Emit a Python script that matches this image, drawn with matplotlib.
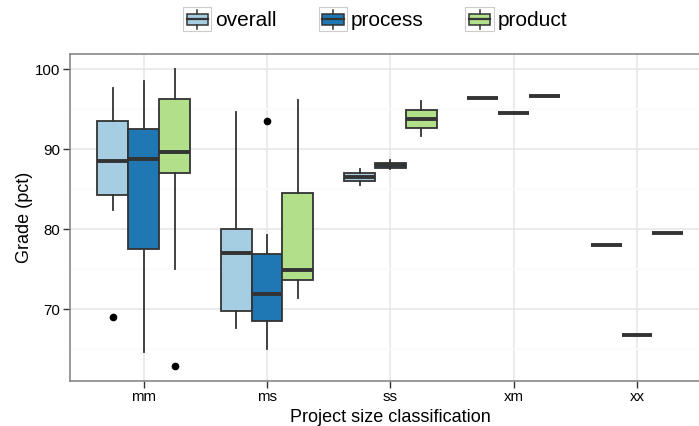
import matplotlib
matplotlib.use('Agg')
import matplotlib.pyplot as plt
from matplotlib.legend_handler import HandlerBase
from matplotlib.patches import Rectangle, Patch
from matplotlib.lines import Line2D
import numpy as np

plt.rcParams['font.family'] = ['Liberation Sans', 'DejaVu Sans']

categories = ['mm', 'ms', 'ss', 'xm', 'xx']
groups = ['overall', 'process', 'product']
colors = ['#A6CEE3', '#1F78B4', '#B2DF8A']

# box summaries (whisker low, q1, median, q3, whisker high)
overall_lo = [82.4, 67.7, 85.5, 96.4, 78.1]
overall_q1 = [84.3, 69.8, 86.0, 96.4, 78.1]
overall_med = [88.5, 77.0, 86.5, 96.4, 78.1]
overall_q3 = [93.5, 80.1, 87.0, 96.4, 78.1]
overall_hi = [97.7, 94.6, 87.5, 96.4, 78.1]
overall_out = [[69.0], [], [], [], []]

process_lo = [64.7, 65.0, 87.5, 94.5, 66.8]
process_q1 = [77.5, 68.6, 87.7, 94.5, 66.8]
process_med = [88.8, 71.9, 88.0, 94.5, 66.8]
process_q3 = [92.5, 76.9, 88.3, 94.5, 66.8]
process_hi = [98.5, 79.3, 88.6, 94.5, 66.8]
process_out = [[], [93.5], [], [], []]

product_lo = [75.1, 71.4, 91.6, 96.6, 79.5]
product_q1 = [87.0, 73.7, 92.7, 96.6, 79.5]
product_med = [89.6, 74.9, 93.8, 96.6, 79.5]
product_q3 = [96.3, 84.6, 94.9, 96.6, 79.5]
product_hi = [100.0, 96.1, 96.0, 96.6, 79.5]
product_out = [[62.9], [], [], [], []]

series = {
    'overall': (overall_lo, overall_q1, overall_med, overall_q3, overall_hi, overall_out),
    'process': (process_lo, process_q1, process_med, process_q3, process_hi, process_out),
    'product': (product_lo, product_q1, product_med, product_q3, product_hi, product_out),
}

edge = '#333333'


class BoxKey(HandlerBase):
    # legend key drawn like a small boxplot inside a grey square
    def create_artists(self, legend, orig, xd, yd, w, h, fs, trans):
        fc = orig.get_facecolor()
        x0, y0 = -xd, -yd
        cx = x0 + w / 2
        bg = Rectangle((x0, y0), w, h, fc='white', ec='#CCCCCC', lw=0.8, transform=trans)
        box = Rectangle((x0 + w * 0.12, y0 + h * 0.27), w * 0.76, h * 0.46,
                        fc=fc, ec=edge, lw=1.1, transform=trans)
        med = Line2D([x0 + w * 0.12, x0 + w * 0.88], [y0 + h / 2] * 2, color=edge, lw=1.6, transform=trans)
        w1 = Line2D([cx, cx], [y0 + h * 0.1, y0 + h * 0.27], color=edge, lw=1.1, transform=trans)
        w2 = Line2D([cx, cx], [y0 + h * 0.73, y0 + h * 0.9], color=edge, lw=1.1, transform=trans)
        return [bg, box, med, w1, w2]


fig = plt.figure(figsize=(6.99, 4.26), dpi=100)
ax = fig.add_axes([69.7 / 699, 45.3 / 426, 641.3 / 699, 326.7 / 426])

x = np.arange(1, len(categories) + 1)
width = 0.25
for i, g in enumerate(groups):
    lo, q1, med, q3, hi, out = series[g]
    stats = []
    for j in range(len(categories)):
        stats.append({'whislo': lo[j], 'q1': q1[j], 'med': med[j], 'q3': q3[j],
                      'whishi': hi[j], 'fliers': out[j]})
    pos = x + (i - 1) * width
    ax.bxp(stats, positions=pos, widths=width, patch_artist=True, showcaps=False,
           boxprops=dict(facecolor=colors[i], edgecolor=edge, linewidth=1.3),
           medianprops=dict(color=edge, linewidth=2.8, solid_capstyle='butt'),
           whiskerprops=dict(color=edge, linewidth=1.3),
           flierprops=dict(marker='o', markerfacecolor='black', markeredgecolor='black', markersize=4.5),
           manage_ticks=False, zorder=3)

ax.set_xlim(0.4, 5.6)
ax.set_ylim(61.1, 101.9)
ax.set_xticks(x)
ax.set_xticklabels(categories)
ax.set_yticks([70, 80, 90, 100])
ax.set_yticks([65, 75, 85, 95], minor=True)
ax.tick_params(axis='y', which='minor', length=0)
ax.tick_params(axis='both', which='major', labelsize=10.8, length=5, width=1, color='#333333', pad=2)
ax.grid(which='major', color='#E5E5E5', linewidth=1.1, zorder=0)
ax.grid(which='minor', axis='y', color='#FAFAFA', linewidth=1.1, zorder=0)
ax.set_axisbelow(True)
for s in ax.spines.values():
    s.set_color('#7F7F7F')
    s.set_linewidth(1.1)

ax.set_xlabel('Project size classification', fontsize=13, labelpad=3)
ax.set_ylabel('Grade (pct)', fontsize=13, labelpad=1)

handles = [Patch(facecolor=c) for c in colors]
fig.legend(handles, groups, handler_map={Patch: BoxKey()}, loc='center', bbox_to_anchor=(0.537, 0.955),
           ncol=3, frameon=False, fontsize=15, handlelength=1.35, handleheight=1.35,
           handletextpad=0.2, columnspacing=2.0)

fig.savefig('out.png', dpi=100)
